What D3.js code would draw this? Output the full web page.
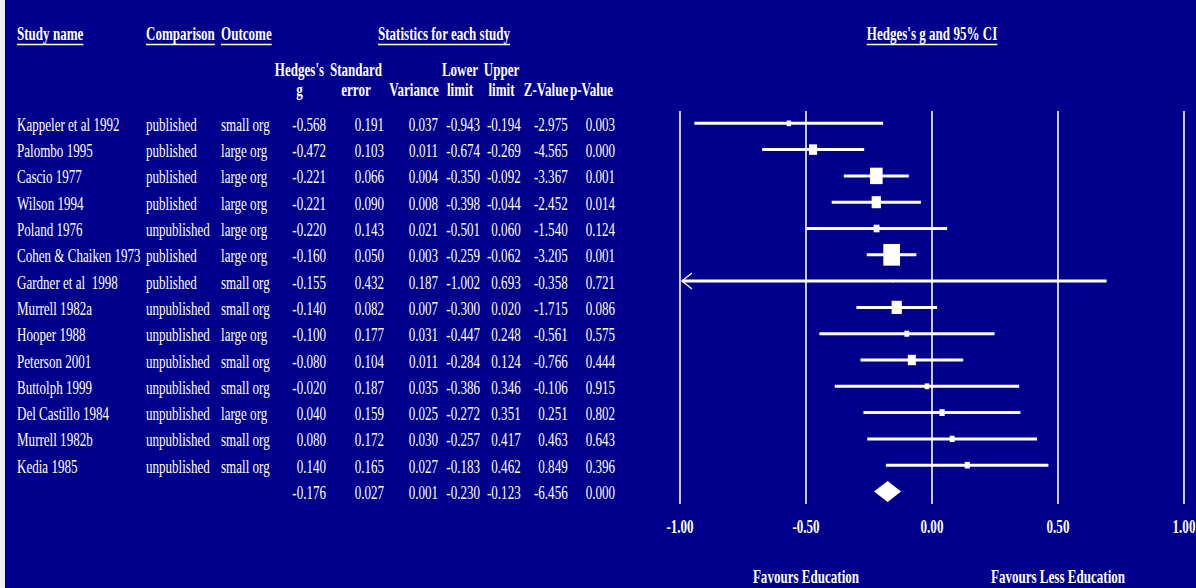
<!DOCTYPE html>
<html>
<head>
<meta charset="utf-8">
<script src="https://cdn.jsdelivr.net/npm/d3@7"></script>
<style>
  body { margin: 0; background: #00008c; }
  svg { display: block; }
  text { font-family: 'Liberation Serif', 'Times New Roman', serif; font-size: 18px; fill: #fff; white-space: pre; }
</style>
</head>
<body>
<div id="chart"></div>
<script>
// study level data
var studies = ['Kappeler et al 1992', 'Palombo 1995', 'Cascio 1977', 'Wilson 1994', 'Poland 1976',
  'Cohen & Chaiken 1973', 'Gardner et al  1998', 'Murrell 1982a', 'Hooper 1988', 'Peterson 2001',
  'Buttolph 1999', 'Del Castillo 1984', 'Murrell 1982b', 'Kedia 1985'];
var comparison = ['published', 'published', 'published', 'published', 'unpublished', 'published', 'published',
  'unpublished', 'unpublished', 'unpublished', 'unpublished', 'unpublished', 'unpublished', 'unpublished'];
var outcome = ['small org', 'large org', 'large org', 'large org', 'large org', 'large org', 'small org',
  'small org', 'large org', 'small org', 'small org', 'large org', 'small org', 'small org'];
var hedgesG = [-0.568, -0.472, -0.221, -0.221, -0.220, -0.160, -0.155, -0.140, -0.100, -0.080, -0.020, 0.040, 0.080, 0.140];
var stdErr = [0.191, 0.103, 0.066, 0.090, 0.143, 0.050, 0.432, 0.082, 0.177, 0.104, 0.187, 0.159, 0.172, 0.165];
var variance = [0.037, 0.011, 0.004, 0.008, 0.021, 0.003, 0.187, 0.007, 0.031, 0.011, 0.035, 0.025, 0.030, 0.027];
var lowerLimit = [-0.943, -0.674, -0.350, -0.398, -0.501, -0.259, -1.002, -0.300, -0.447, -0.284, -0.386, -0.272, -0.257, -0.183];
var upperLimit = [-0.194, -0.269, -0.092, -0.044, 0.060, -0.062, 0.693, 0.020, 0.248, 0.124, 0.346, 0.351, 0.417, 0.462];
var zValue = [-2.975, -4.565, -3.367, -2.452, -1.540, -3.205, -0.358, -1.715, -0.561, -0.766, -0.106, 0.251, 0.463, 0.849];
var pValue = [0.003, 0.000, 0.001, 0.014, 0.124, 0.001, 0.721, 0.086, 0.575, 0.444, 0.915, 0.802, 0.643, 0.396];

// pooled result: g, se, variance, lower, upper, z, p
var summary = [-0.176, 0.027, 0.001, -0.230, -0.123, -6.456, 0.000];

var ticks = [-1, -0.5, 0, 0.5, 1];

var W = 1196, H = 588;
var SX = 0.725; // the original text is squeezed sideways

var svg = d3.select('#chart').append('svg')
  .attr('width', W)
  .attr('height', H);

svg.append('rect').attr('width', W).attr('height', H).attr('fill', '#00008c');
svg.append('rect').attr('width', 5).attr('height', H).attr('fill', '#eeeef4');

function txt(x, y, s, anchor, bold){
  return svg.append('text')
    .attr('transform', 'translate(' + x + ',' + y + ') scale(' + SX + ',1)')
    .attr('text-anchor', anchor || 'start')
    .attr('font-weight', bold ? 'bold' : 'normal')
    .text(s);
}

function underline(t, x, anchor){
  var w = t.node().getComputedTextLength() * SX;
  var x0 = anchor === 'middle' ? x - w / 2 : x;
  svg.append('line')
    .attr('x1', x0).attr('x2', x0 + w)
    .attr('y1', 44.5).attr('y2', 44.5)
    .attr('stroke', '#fff').attr('stroke-width', 1.5);
}

// scales
var x = d3.scaleLinear().domain([-1, 1]).range([680, 1184]);
var y = d3.scalePoint().domain(d3.range(studies.length + 1)).range([123.3, 491.5]);
var weight = stdErr.map(function(s){ return 1 / (s * s); });
var size = d3.scaleSqrt().domain([0, d3.max(weight)]).range([0, 21.7]);

// top headers
[[17, 'Study name', 'start'], [146, 'Comparison', 'start'], [221, 'Outcome', 'start'],
 [444, 'Statistics for each study', 'middle'], [x(0), "Hedges's g and 95% CI", 'middle']]
  .forEach(function(h){
    var t = txt(h[0], 40, h[1], h[2], true);
    underline(t, h[0], h[2]);
  });

// column headers
var cols = [
  {head: ["Hedges's", 'g'], hx: 299.5, vx: 326},
  {head: ['Standard', 'error'], hx: 356, vx: 384},
  {head: ['', 'Variance'], hx: 414, vx: 438},
  {head: ['Lower', 'limit'], hx: 460, vx: 480},
  {head: ['Upper', 'limit'], hx: 501.5, vx: 520.7},
  {head: ['', 'Z-Value'], hx: 546, vx: 567.7},
  {head: ['', 'p-Value'], hx: 591.5, vx: 615}
];
cols.forEach(function(c){
  if(c.head[0]) txt(c.hx, 76, c.head[0], 'middle', true);
  txt(c.hx, 96, c.head[1], 'middle', true);
});

// table rows
var stats = [hedgesG, stdErr, variance, lowerLimit, upperLimit, zValue, pValue];
studies.forEach(function(name, i){
  var by = y(i) + 7.5;
  txt(17, by, name);
  txt(146, by, comparison[i]);
  txt(221, by, outcome[i]);
  stats.forEach(function(arr, j){
    txt(cols[j].vx, by, arr[i].toFixed(3), 'end');
  });
});
summary.forEach(function(v, j){
  txt(cols[j].vx, y(studies.length) + 7.5, v.toFixed(3), 'end');
});

// reference lines
svg.selectAll('line.ref')
  .data(ticks)
  .enter()
  .append('line')
  .attr('class', 'ref')
  .attr('x1', function(d){ return x(d); })
  .attr('x2', function(d){ return x(d); })
  .attr('y1', 111).attr('y2', 504)
  .attr('stroke', '#fff')
  .attr('stroke-width', 1.6);

ticks.forEach(function(d){
  txt(x(d), 533, d.toFixed(2), 'middle', true);
});

// confidence intervals
studies.forEach(function(name, i){
  var cy = y(i);
  var lo = Math.max(lowerLimit[i], -1), hi = Math.min(upperLimit[i], 1);
  svg.append('line')
    .attr('x1', x(lo) + (lowerLimit[i] < -1 ? 2 : 0)).attr('x2', x(hi))
    .attr('y1', cy).attr('y2', cy)
    .attr('stroke', '#fff').attr('stroke-width', 3);
  if(lowerLimit[i] < -1){
    svg.append('path')
      .attr('d', 'M' + (x(-1) + 12) + ',' + (cy - 8) + 'L' + (x(-1) + 2) + ',' + cy + 'L' + (x(-1) + 12) + ',' + (cy + 8))
      .attr('fill', 'none').attr('stroke', '#fff').attr('stroke-width', 1.3);
  }
  var h = size(weight[i]), w = h * 0.77;
  svg.append('rect')
    .attr('x', x(hedgesG[i]) - w / 2).attr('y', cy - h / 2)
    .attr('width', w).attr('height', h)
    .attr('fill', '#fff');
});

// pooled diamond
var sy = y(studies.length);
svg.append('path')
  .attr('d', 'M' + x(summary[3]) + ',' + sy + 'L' + x(summary[0]) + ',' + (sy - 10.5) +
    'L' + x(summary[4]) + ',' + sy + 'L' + x(summary[0]) + ',' + (sy + 10.5) + 'Z')
  .attr('fill', '#fff');

// favours labels
txt(x(-0.5), 583, 'Favours Education', 'middle', true);
txt(x(0.5), 583, 'Favours Less Education', 'middle', true);
</script>
</body>
</html>
